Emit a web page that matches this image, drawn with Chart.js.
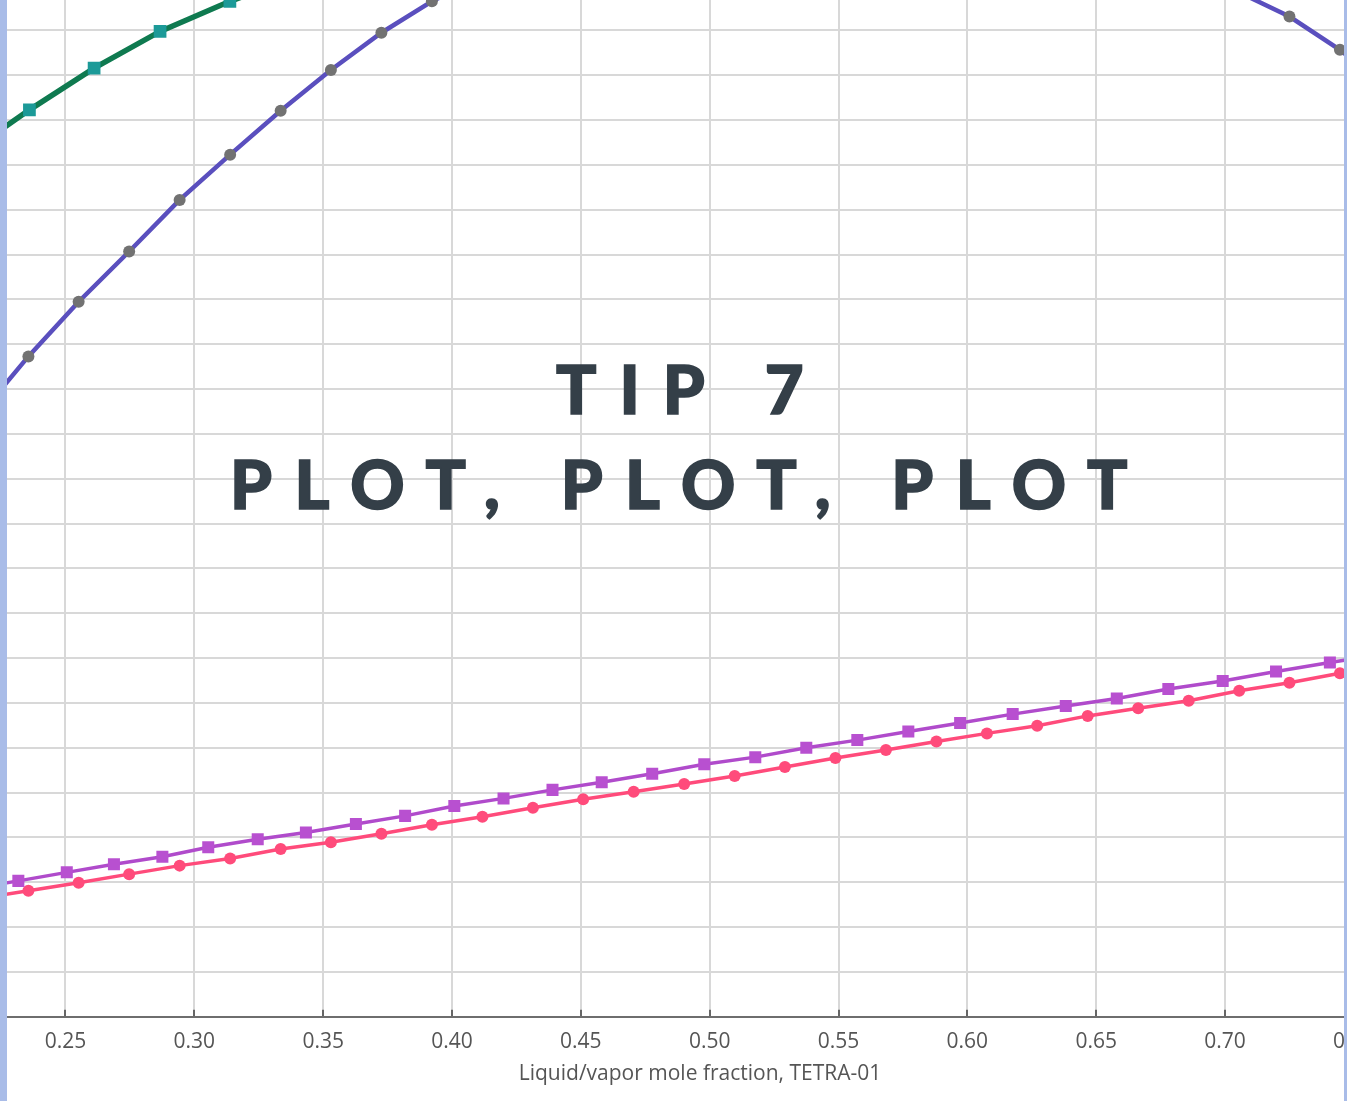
<!DOCTYPE html>
<html>
<head>
<meta charset="utf-8">
<title>TIP 7 – Plot, plot, plot</title>
<script src="https://cdn.jsdelivr.net/npm/chart.js@4.4.1/dist/chart.umd.min.js"></script>
<style>
  html, body { margin: 0; padding: 0; background: #ffffff; }
  #frame { position: relative; width: 1347px; height: 1101px; overflow: hidden; background: #ffffff; }
  #plot { position: absolute; left: 0; top: 0; }
  .stripe { position: absolute; top: 0; height: 1101px; background: #a9bce8; }
  #stripeL { left: 0; width: 7px; }
  #stripeR { left: 1344px; width: 3px; }
  .cap {
    position: absolute;
    white-space: pre;
    font-family: Lato, "Open Sans", sans-serif;
    font-weight: 900;
    font-size: 67px;
    line-height: 67px;
    letter-spacing: 23px;
    color: #343f48;
    -webkit-text-stroke: 1.6px #343f48;
  }
  #cap1 { left: 556px; top: 355px; }
  #cap2 { left: 230px; top: 450px; letter-spacing: 22.4px; }
</style>
</head>
<body>
<div id="frame">
  <canvas id="plot" width="1400" height="1101"></canvas>
  <div class="stripe" id="stripeL"></div>
  <div class="stripe" id="stripeR"></div>
  <div class="cap" id="cap1">TIP 7</div>
  <div class="cap" id="cap2">PLOT, PLOT, PLOT</div>
</div>
<script>
// Axis text
const X_TITLE = 'Liquid/vapor mole fraction, TETRA-01';

// Visible window of the diagram
const X_MIN = 0.22458;
const X_MAX = 0.76791;
const X_STEP = 0.05;
const Y_MIN = 0;
const Y_MAX = 22.68;
const Y_STEP = 1;

// Liquid compositions shared by the two liquid curves
const liquidX = [0.2160, 0.2356, 0.2551, 0.2747, 0.2943, 0.3139, 0.3335, 0.3530, 0.3726, 0.3922,
                 0.4118, 0.4314, 0.4509, 0.4705, 0.4901, 0.5097, 0.5292, 0.5488, 0.5684, 0.5880,
                 0.6076, 0.6271, 0.6467, 0.6663, 0.6859, 0.7055, 0.7250, 0.7446, 0.7642];

// Upper liquid curve (blue line, grey markers)
const upperLiquid = [13.38, 14.73, 15.95, 17.07, 18.22, 19.23, 20.21, 21.12, 21.95, 22.65,
                     23.20, 23.60, 23.90, 24.10, 24.25, 24.30, 24.30, 24.25, 24.15, 24.05,
                     23.95, 23.80, 23.65, 23.45, 23.20, 22.85, 22.31, 21.57, 20.65];

// Lower liquid curve (pink circles)
const lowerLiquid = [2.63, 2.81, 2.99, 3.18, 3.37, 3.53, 3.74, 3.89, 4.08, 4.28,
                     4.46, 4.66, 4.85, 5.02, 5.19, 5.37, 5.57, 5.77, 5.95, 6.14,
                     6.32, 6.49, 6.71, 6.88, 7.05, 7.27, 7.45, 7.66, 7.85];

// Upper vapour curve (green line, teal squares)
const upperVaporX = [0.2106, 0.2360, 0.2611, 0.2867, 0.3138, 0.3422, 0.3721, 0.4031, 0.4361,
                     0.4710, 0.5079, 0.5467, 0.5875, 0.6301, 0.6748, 0.7213, 0.7679];
const upperVapor  = [19.21, 20.23, 21.16, 21.98, 22.65, 23.25, 23.70, 24.05, 24.30,
                     24.45, 24.55, 24.60, 24.55, 24.45, 24.30, 24.10, 23.85];

// Lower vapour curve (purple squares)
const lowerVaporX = [0.2129, 0.2317, 0.2505, 0.2688, 0.2876, 0.3054, 0.3246, 0.3433, 0.3627, 0.3818,
                     0.4009, 0.4200, 0.4390, 0.4581, 0.4777, 0.4979, 0.5177, 0.5375, 0.5573, 0.5771,
                     0.5972, 0.6176, 0.6382, 0.6580, 0.6780, 0.6991, 0.7198, 0.7407, 0.7617];
const lowerVapor  = [2.85, 3.03, 3.22, 3.40, 3.57, 3.78, 3.96, 4.11, 4.30, 4.48,
                     4.70, 4.87, 5.06, 5.23, 5.42, 5.63, 5.79, 6.00, 6.17, 6.36,
                     6.55, 6.75, 6.93, 7.10, 7.31, 7.49, 7.70, 7.90, 8.09];

const pairs = (xs, ys) => xs.map((x, i) => ({ x: x, y: ys[i] }));

const GRID = '#d8d8d8';
const TEXT = '#555555';

new Chart(document.getElementById('plot'), {
  type: 'scatter',
  data: {
    datasets: [
      {
        label: 'Vapour (lower)',
        data: pairs(lowerVaporX, lowerVapor),
        showLine: true,
        borderColor: '#b04bcb',
        borderWidth: 3.5,
        pointStyle: 'rect',
        pointRadius: 8.5,
        pointBackgroundColor: '#b850d0',
        pointBorderWidth: 0
      },
      {
        label: 'Liquid (lower)',
        data: pairs(liquidX, lowerLiquid),
        showLine: true,
        borderColor: '#ff4b7b',
        borderWidth: 3.5,
        pointStyle: 'circle',
        pointRadius: 6,
        pointBackgroundColor: '#ff4b7b',
        pointBorderWidth: 0
      },
      {
        label: 'Liquid (upper)',
        data: pairs(liquidX, upperLiquid),
        showLine: true,
        borderColor: '#5a4fbe',
        borderWidth: 4.5,
        pointStyle: 'circle',
        pointRadius: 6,
        pointBackgroundColor: '#727272',
        pointBorderWidth: 0
      },
      {
        label: 'Vapour (upper)',
        data: pairs(upperVaporX, upperVapor),
        showLine: true,
        borderColor: '#0f7a50',
        borderWidth: 5.5,
        pointStyle: 'rect',
        pointRadius: 9,
        pointBackgroundColor: '#1c9a98',
        pointBorderWidth: 0
      }
    ]
  },
  options: {
    responsive: false,
    animation: false,
    events: [],
    layout: { padding: 0, autoPadding: false },
    plugins: {
      legend: { display: false },
      tooltip: { enabled: false }
    },
    scales: {
      x: {
        type: 'linear',
        position: 'bottom',
        min: X_MIN,
        max: X_MAX,
        ticks: {
          stepSize: X_STEP,
          includeBounds: false,
          autoSkip: false,
          maxRotation: 0,
          minRotation: 0,
          padding: 19.7,
          color: TEXT,
          font: { family: '"Open Sans", sans-serif', size: 21 },
          callback: (v) => v.toFixed(2)
        },
        grid: {
          color: GRID,
          lineWidth: 2,
          tickLength: -7,
          tickColor: '#666666',
          tickWidth: 2
        },
        border: { color: '#6e6e6e', width: 2 },
        title: {
          display: true,
          text: X_TITLE,
          color: TEXT,
          font: { family: '"Open Sans", sans-serif', size: 21 },
          padding: { top: -12.9, bottom: 14.4 }
        }
      },
      y: {
        min: Y_MIN,
        max: Y_MAX,
        ticks: { display: false, stepSize: Y_STEP, includeBounds: false },
        grid: { color: GRID, lineWidth: 2, drawTicks: false },
        border: { display: false }
      }
    }
  }
});
</script>
</body>
</html>
